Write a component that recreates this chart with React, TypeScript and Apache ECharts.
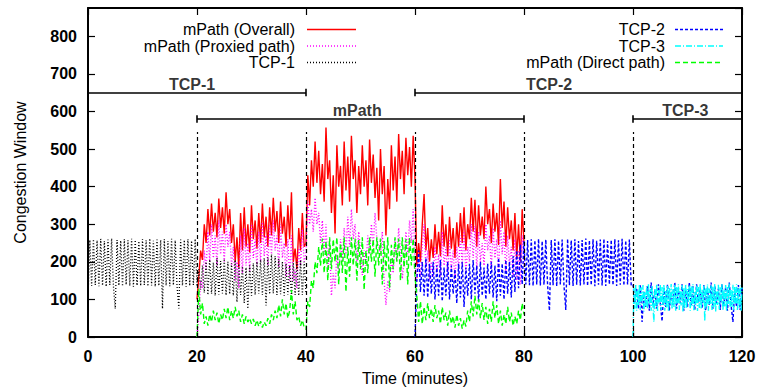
import React, { useEffect, useRef } from "react";
import * as echarts from "echarts";

// Sampling interval of the congestion-window traces (minutes)
const STEP = 1 / 3;
const TCP3_STEP = 1 / 6;

// TCP-1: 0–40 min
const tcp1Start = 0;
const tcp1 = [
  100, 258, 136, 260, 138, 257, 135, 261, 137, 255, 134, 259, 138, 262, 136, 75,
  258, 137, 256, 135, 260, 139, 257, 136, 261, 134, 258, 137, 255, 136, 260, 138, 257, 135, 262, 137, 256, 134, 259, 136, 258,
  75, 260, 137, 255, 135, 261, 138, 257, 136, 76, 259, 137, 258, 134, 260, 136, 256, 138, 261, 135,
  180, 125, 190, 118, 200, 112, 206, 115, 198, 110,
  210, 113, 202, 116, 208, 111, 200, 114, 196, 110,
  205, 93, 195, 112, 188, 90, 185, 75, 190, 110,
  196, 112, 200, 115, 205, 112, 210, 84, 212, 114,
  220, 116, 215, 112, 208, 114, 200, 110, 195, 113,
  190, 108, 198, 112, 200, 110, 205, 112, 200, 115,
];

// mPath (Overall): 20–80 min
const overallStart = 20;
const overall = [
  100, 160, 230, 205, 300, 250, 340, 270, 355, 280,
  330, 265, 368, 290, 345, 275, 385, 300, 340, 250,
  300, 200, 265, 185, 330, 230, 345, 240, 300, 225,
  350, 260, 310, 235, 330, 250, 355, 265, 320, 240,
  345, 270, 370, 280, 335, 250, 360, 275, 320, 240,
  350, 260, 385, 200, 235, 180, 290, 230, 330, 240, 250,
  430, 350, 470, 400, 520, 410, 495, 380, 460, 360,
  557, 420, 470, 330, 430, 275, 510, 400, 455, 350,
  520, 390, 480, 360, 535, 420, 470, 330, 455, 380,
  510, 400, 470, 350, 525, 410, 485, 370, 450, 310,
  500, 380, 455, 270, 420, 340, 510, 390, 480, 360,
  540, 420, 495, 380, 530, 430, 505, 400, 535, 420,
  190, 250, 200, 300, 380, 230, 290, 200, 260, 210,
  300, 220, 280, 215, 350, 240, 300, 215, 320, 235,
  290, 210, 305, 240, 330, 250, 345, 230, 300, 260,
  370, 280, 365, 240, 350, 270, 320, 260, 400, 300,
  340, 250, 355, 280, 330, 245, 420, 290, 360, 240,
  345, 260, 310, 230, 330, 210, 300, 200, 340, 250,
];

// mPath (Proxied path): 20–80 min
const proxiedStart = 20;
const proxied = [
  0, 60, 150, 130, 230, 180, 280, 200, 300, 210,
  270, 190, 310, 220, 280, 200, 300, 240, 280, 190,
  240, 150, 200, 130, 270, 170, 290, 190, 250, 175,
  300, 210, 260, 190, 280, 200, 305, 215, 270, 190,
  300, 220, 310, 230, 270, 185, 300, 210, 250, 160,
  260, 150, 270, 150, 180, 130, 240, 190, 285, 200, 220,
  360, 300, 340, 280, 370, 300, 330, 250, 310, 220,
  300, 180, 250, 110, 170, 130, 220, 170, 260, 200,
  290, 220, 320, 240, 340, 260, 300, 200, 280, 230,
  165, 230, 190, 270, 220, 300, 240, 330, 260, 240,
  220, 280, 150, 85, 150, 120, 210, 170, 260, 200,
  290, 230, 155, 200, 280, 220, 310, 250, 340, 200,
  150, 200, 160, 240, 300, 180, 230, 150, 200, 160,
  240, 170, 220, 160, 280, 190, 240, 160, 260, 180,
  230, 150, 240, 180, 270, 190, 285, 170, 240, 200,
  300, 210, 295, 180, 280, 200, 250, 190, 300, 230,
  270, 180, 290, 210, 260, 170, 310, 220, 280, 170,
  270, 190, 240, 160, 260, 150, 230, 140, 270, 190,
];

// mPath (Direct path): 20–80 min
const directStart = 20;
const direct = [
  0, 128, 60, 90, 35, 55, 30, 60, 40, 70,
  45, 65, 35, 60, 45, 75, 50, 80, 45, 70,
  50, 80, 55, 70, 40, 60, 35, 55, 40, 50,
  35, 48, 30, 45, 28, 42, 25, 40, 30, 50,
  35, 60, 45, 70, 50, 85, 55, 100, 60, 90,
  50, 70, 125, 60, 95, 45, 55, 30, 45, 25, 20,
  95, 80, 150, 130, 200, 170, 240, 190, 262, 170,
  255, 150, 265, 180, 260, 200, 265, 140, 250, 170,
  265, 120, 240, 160, 265, 190, 262, 150, 258, 180,
  265, 125, 230, 170, 265, 200, 260, 160, 265, 190,
  262, 140, 255, 175, 265, 130, 245, 180, 265, 200,
  262, 150, 265, 185, 260, 140, 265, 190, 262, 160,
  110, 40, 95, 35, 80, 45, 90, 50, 75, 40,
  85, 50, 70, 35, 80, 45, 65, 30, 70, 35,
  55, 25, 60, 30, 50, 22, 45, 28, 70, 40,
  95, 55, 110, 60, 100, 50, 90, 45, 80, 35,
  75, 40, 95, 50, 85, 35, 70, 30, 60, 35,
  80, 40, 65, 30, 55, 35, 70, 45, 90, 60,
];

// TCP-2: 60–120 min
const tcp2Start = 60;
const tcp2 = [
  0, 150, 230, 120, 200, 110, 210, 105, 195, 115,
  200, 100, 190, 110, 205, 95, 185, 110, 200, 100,
  190, 115, 180, 90, 195, 105, 200, 80, 185, 110,
  195, 100, 205, 115, 190, 95, 200, 110, 185, 100,
  195, 115, 200, 105, 190, 95, 210, 110, 195, 100,
  205, 115, 200, 105, 215, 120, 230, 130, 245, 140, 255,
  140, 258, 138, 260, 136, 257, 140, 261, 137, 255,
  139, 259, 136, 70, 258, 138, 260, 135, 256, 140,
  259, 137, 72, 261, 138, 257, 136, 260, 139, 255,
  137, 258, 140, 262, 136, 257, 138, 260, 135, 256,
  139, 259, 137, 261, 136, 255, 140, 258, 138, 260,
  136, 257, 139, 261, 137, 256, 140, 259, 138, 140,
  90, 130, 75, 140, 40, 120, 80, 135, 70, 145,
  85, 125, 75, 140, 90, 42, 130, 80, 140, 70,
  120, 85, 145, 75, 130, 90, 140, 70, 125, 80,
  145, 85, 135, 72, 140, 90, 125, 78, 138, 70,
  130, 85, 145, 75, 135, 90, 128, 72, 140, 82,
  132, 70, 145, 85, 40, 125, 80, 138, 72, 130,
];

// TCP-3: 100–120 min
const tcp3Start = 100;
const tcp3 = [
  0, 130, 75, 138, 70, 125, 85, 140, 72, 132,
  90, 138, 68, 120, 80, 135, 74, 140, 88, 128,
  70, 136, 82, 40, 130, 76, 140, 69, 125, 92,
  138, 72, 133, 85, 140, 70, 122, 78, 137, 68,
  130, 88, 141, 74, 127, 80, 139, 70, 134, 90,
  140, 72, 124, 84, 138, 68, 131, 78, 141, 75,
  128, 92, 137, 70, 135, 82, 140, 71, 121, 86,
  139, 69, 133, 77, 142, 74, 126, 90, 138, 42,
  131, 80, 140, 70, 129, 88, 137, 72, 134, 79,
  141, 68, 123, 85, 139, 73, 132, 90, 140, 70,
  127, 82, 138, 69, 135, 87, 142, 74, 125, 80,
  139, 71, 133, 89, 140, 72, 128, 78, 137, 70, 132,
];

// Phase markers
const phaseBoundaries = [20, 40, 60, 80, 100];
const phaseTop = 545;
const phases = [
  { name: "TCP-1", from: 0, to: 40, level: 650, labelAt: 19.1 },
  { name: "mPath", from: 20, to: 80, level: 580, labelAt: 49.4 },
  { name: "TCP-2", from: 60, to: 120, level: 650, labelAt: 84.6 },
  { name: "TCP-3", from: 100, to: 120, level: 580, labelAt: 109.6 },
];

const FONT = "'Liberation Sans', Arial, Helvetica, sans-serif";
const X_MAX = 120;
const Y_MAX = 875;

const toPoints = (start: number, step: number, values: number[]) =>
  values.map((v, i) => [start + i * step, v]);

type Trace = {
  name: string;
  start: number;
  step: number;
  values: number[];
  color: string;
  dash: number[] | "solid";
  width: number;
};

// drawing order: later traces are painted on top
const traces: Trace[] = [
  { name: "mPath (Overall)", start: overallStart, step: STEP, values: overall, color: "#ff0000", dash: "solid", width: 1.4 },
  { name: "mPath (Proxied path)", start: proxiedStart, step: STEP, values: proxied, color: "#ff00ff", dash: [1, 2], width: 1.4 },
  { name: "TCP-1", start: tcp1Start, step: STEP, values: tcp1, color: "#000000", dash: [1, 2], width: 1.3 },
  { name: "TCP-2", start: tcp2Start, step: STEP, values: tcp2, color: "#0000ff", dash: [3, 2], width: 1.4 },
  { name: "TCP-3", start: tcp3Start, step: TCP3_STEP, values: tcp3, color: "#00ffff", dash: [6, 2, 1, 2], width: 1.4 },
  { name: "mPath (Direct path)", start: directStart, step: STEP, values: direct, color: "#00ff00", dash: [5, 3], width: 1.4 },
];

// key layout: two columns, text right-aligned before the line sample
const keyColumns = [
  { textRight: 295, lineFrom: 307, lineTo: 356, items: [0, 1, 2] },
  { textRight: 665, lineFrom: 675, lineTo: 723, items: [3, 4, 5] },
];
const keyRows = [29.5, 46, 62.5];

function buildOption() {
  const lineSeries = traces.map((t) => ({
    type: "line",
    name: t.name,
    data: toPoints(t.start, t.step, t.values),
    showSymbol: false,
    symbol: "none",
    silent: true,
    lineStyle: { color: t.color, width: t.width, type: t.dash },
    emphasis: { disabled: true },
  }));

  const markerLines: any[] = [];
  phaseBoundaries.forEach((x) => {
    markerLines.push([{ coord: [x, 0] }, { coord: [x, phaseTop] }]);
  });

  const bracketLines: any[] = [];
  phases.forEach((p) => {
    bracketLines.push([{ coord: [p.from, p.level] }, { coord: [p.to, p.level] }]);
    if (p.from > 0) bracketLines.push([{ coord: [p.from, p.level - 10] }, { coord: [p.from, p.level + 10] }]);
    if (p.to < X_MAX) bracketLines.push([{ coord: [p.to, p.level - 10] }, { coord: [p.to, p.level + 10] }]);
  });

  const axisCommon = {
    axisLine: { show: true, onZero: false, lineStyle: { color: "#000", width: 2 } },
    axisTick: { show: true, inside: true, length: 7, lineStyle: { color: "#000", width: 1.2 } },
    splitLine: { show: false },
  };
  const tickLabel = {
    color: "#000",
    fontSize: 16,
    fontFamily: FONT,
    fontWeight: "bold" as const,
    showMaxLabel: false,
  };
  const titleStyle = { color: "#000", fontSize: 16, fontFamily: FONT };

  const graphic: any[] = [];
  keyColumns.forEach((col) => {
    col.items.forEach((idx, row) => {
      const t = traces[idx];
      const y = keyRows[row];
      graphic.push({
        type: "text",
        x: col.textRight,
        y,
        silent: true,
        style: {
          text: t.name,
          fill: "#000",
          font: `16px ${FONT}`,
          textAlign: "right",
          textVerticalAlign: "middle",
          align: "right",
          verticalAlign: "middle",
        },
      });
      graphic.push({
        type: "line",
        silent: true,
        shape: { x1: col.lineFrom, y1: y, x2: col.lineTo, y2: y },
        style: {
          stroke: t.color,
          lineWidth: t.width,
          lineDash: t.dash === "solid" ? null : t.dash,
        },
      });
    });
  });

  return {
    animation: false,
    backgroundColor: "#ffffff",
    grid: { left: 88, right: 19, top: 8, bottom: 53, containLabel: false },
    xAxis: [
      {
        type: "value",
        min: 0,
        max: X_MAX,
        interval: 20,
        position: "bottom",
        name: "Time (minutes)",
        nameLocation: "middle",
        nameGap: 33,
        nameTextStyle: titleStyle,
        axisLabel: { ...tickLabel, showMaxLabel: true, margin: 11 },
        ...axisCommon,
      },
      {
        type: "value",
        min: 0,
        max: X_MAX,
        interval: 20,
        position: "top",
        axisLabel: { show: false },
        ...axisCommon,
      },
    ],
    yAxis: [
      {
        type: "value",
        min: 0,
        max: Y_MAX,
        interval: 100,
        position: "left",
        name: "Congestion Window",
        nameLocation: "middle",
        nameGap: 60,
        nameTextStyle: titleStyle,
        axisLabel: {
          ...tickLabel,
          margin: 11,
          formatter: (v: number) => (v % 100 === 0 ? String(v) : ""),
        },
        ...axisCommon,
      },
      {
        type: "value",
        min: 0,
        max: Y_MAX,
        interval: 100,
        position: "right",
        axisLabel: { show: false },
        ...axisCommon,
      },
    ],
    graphic,
    series: [
      ...lineSeries,
      {
        type: "line",
        data: [],
        silent: true,
        markLine: {
          silent: true,
          symbol: ["none", "none"],
          label: { show: false },
          lineStyle: { color: "#000", width: 1.2, type: [4, 3] },
          emphasis: { disabled: true },
          data: markerLines,
        },
      },
      {
        type: "line",
        data: [],
        silent: true,
        markLine: {
          silent: true,
          symbol: ["none", "none"],
          label: { show: false },
          lineStyle: { color: "#000", width: 1.6, type: "solid" },
          emphasis: { disabled: true },
          data: bracketLines,
        },
      },
      {
        type: "scatter",
        silent: true,
        symbolSize: 0.001,
        itemStyle: { color: "transparent" },
        data: phases.map((p) => [p.labelAt, p.level, p.name]),
        label: {
          show: true,
          position: "top",
          distance: 0,
          color: "#000",
          fontSize: 16,
          fontFamily: FONT,
          fontWeight: "bold",
          formatter: (p: any) => p.data[2],
        },
      },
    ],
  };
}

export default function App() {
  const ref = useRef<HTMLDivElement>(null);
  useEffect(() => {
    if (!ref.current) return;
    const chart = echarts.init(ref.current, null, { renderer: "svg" });
    chart.setOption(buildOption() as any);
    return () => chart.dispose();
  }, []);
  return (
    <div
      ref={ref}
      style={{ position: "fixed", left: 0, top: 0, width: 761, height: 391, background: "#fff" }}
    />
  );
}
